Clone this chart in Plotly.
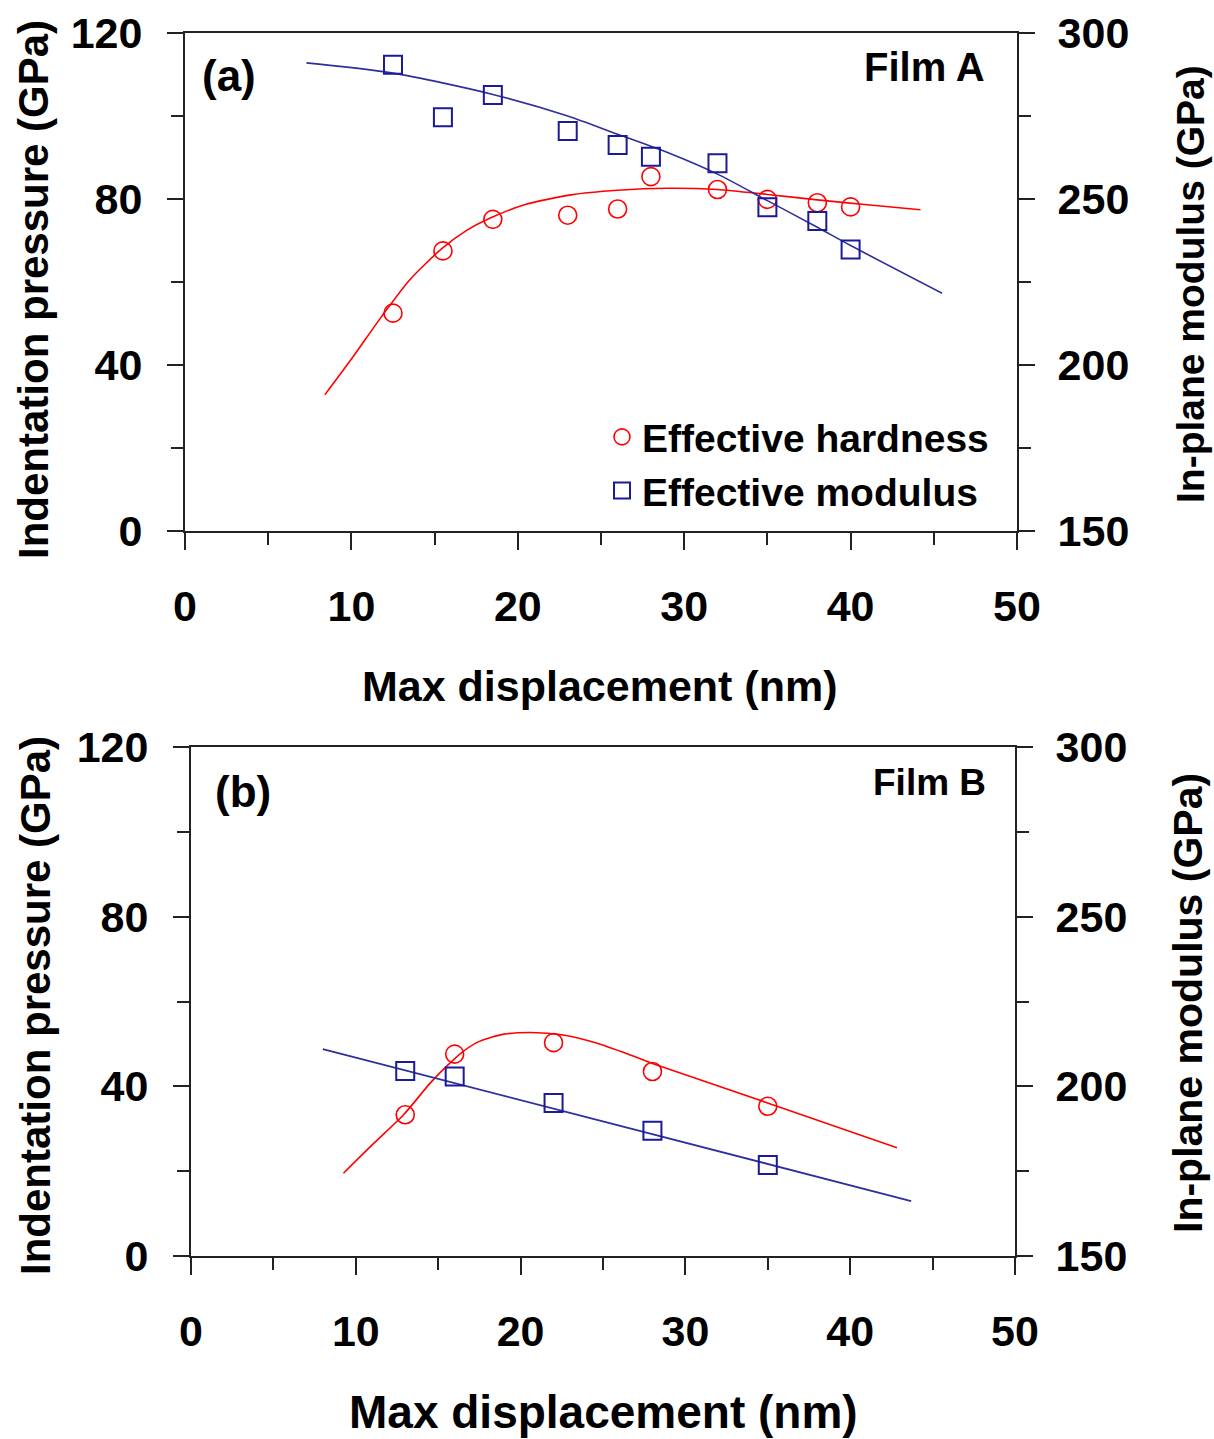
import plotly.graph_objects as go

W, H = 1214, 1439

# ---------------- data: panel (a) Film A ----------------
a_x = [12.5, 15.5, 18.5, 23, 26, 28, 32, 35, 38, 40]
a_hardness = [52.5, 67.5, 75.1, 76.1, 77.6, 85.4, 82.3, 79.9, 79.1, 78.1]
a_modulus = [290.4, 274.6, 281.3, 270.5, 266.3, 262.7, 260.8, 247.5, 243.4, 234.8]
a_hard_fit_x = [8.4, 10.1, 11.8, 13.5, 15.45, 16.95, 18.45, 20.4, 23.2, 26, 29, 32, 35, 38, 41, 44.2]
a_hard_fit_y = [32.8, 42.0, 51.6, 60.5, 68.1, 72.5, 75.6, 78.6, 81.0, 82.1, 82.6, 82.3, 81.1, 79.8, 78.6, 77.4]
a_mod_fit_x = [7.3, 12.4, 18.5, 23, 26, 29, 32, 35, 38, 40, 45.5]
a_mod_fit_y = [291, 288, 281.5, 275, 269.5, 264, 257.5, 249.5, 241.5, 236, 221.6]

# ---------------- data: panel (b) Film B ----------------
b_x = [13, 16, 22, 28, 35]
b_hardness = [33.3, 47.6, 50.3, 43.5, 35.3]
b_modulus = [204.5, 202.9, 195.1, 186.9, 176.8]
b_hard_fit_x = [9.25, 11.1, 12.9, 14.5, 15.5, 16.5, 17.5, 19, 20.6, 22.6, 24.6, 26.65, 28, 34.9, 42.84]
b_hard_fit_y = [19.5, 26.6, 33.3, 40.7, 44.7, 48.2, 50.6, 52.3, 52.7, 52.1, 50.2, 47.4, 45.4, 36.2, 25.5]
b_mod_fit_x = [8, 26.65, 43.7]
b_mod_fit_y = [211, 187.7, 166.2]

# ---------------- ticks ----------------
x_major = [0, 10, 20, 30, 40, 50]
x_labels = ["0", "10", "20", "30", "40", "50"]
x_minor = [5, 15, 25, 35, 45]
yl_major = [0, 40, 80, 120]
yl_labels = ["0", "40", "80", "120"]
yl_minor = [20, 60, 100]
yr_major = [150, 200, 250, 300]
yr_labels = ["150", "200", "250", "300"]
yr_minor = [175, 225, 275]

FONT = "Liberation Sans, Arial, sans-serif"
RED = "#FF0000"
BLUE_M = "#1A1A9A"
BLUE_L = "#2E2E9E"
AX = "#222222"

fig = go.Figure()

# panel (a)
fig.add_trace(go.Scatter(x=a_hard_fit_x, y=a_hard_fit_y, mode="lines",
                         line=dict(color=RED, width=1.6, shape="spline", smoothing=0.7),
                         xaxis="x", yaxis="y", showlegend=False, hoverinfo="skip"))
fig.add_trace(go.Scatter(x=a_mod_fit_x, y=a_mod_fit_y, mode="lines",
                         line=dict(color=BLUE_L, width=1.6, shape="spline", smoothing=0.8),
                         xaxis="x", yaxis="y3", showlegend=False, hoverinfo="skip"))
fig.add_trace(go.Scatter(x=a_x, y=a_hardness, mode="markers", name="Effective hardness",
                         marker=dict(symbol="circle-open", size=18, color=RED, line=dict(width=1.6, color=RED)),
                         xaxis="x", yaxis="y"))
fig.add_trace(go.Scatter(x=a_x, y=a_modulus, mode="markers", name="Effective modulus",
                         marker=dict(symbol="square-open", size=18, color=BLUE_M, line=dict(width=2, color=BLUE_M)),
                         xaxis="x", yaxis="y3"))

# panel (b)
fig.add_trace(go.Scatter(x=b_hard_fit_x, y=b_hard_fit_y, mode="lines",
                         line=dict(color=RED, width=1.6, shape="spline", smoothing=0.7),
                         xaxis="x2", yaxis="y2", showlegend=False, hoverinfo="skip"))
fig.add_trace(go.Scatter(x=b_mod_fit_x, y=b_mod_fit_y, mode="lines",
                         line=dict(color=BLUE_L, width=1.8),
                         xaxis="x2", yaxis="y4", showlegend=False, hoverinfo="skip"))
fig.add_trace(go.Scatter(x=b_x, y=b_hardness, mode="markers", showlegend=False,
                         marker=dict(symbol="circle-open", size=18, color=RED, line=dict(width=1.6, color=RED)),
                         xaxis="x2", yaxis="y2"))
fig.add_trace(go.Scatter(x=b_x, y=b_modulus, mode="markers", showlegend=False,
                         marker=dict(symbol="square-open", size=18, color=BLUE_M, line=dict(width=2, color=BLUE_M)),
                         xaxis="x2", yaxis="y4"))

tickfont = dict(family=FONT, size=43, color="black", weight="bold")


def xax(domain, anchor):
    return dict(domain=domain, anchor=anchor, range=[0, 50], tickvals=x_major, ticktext=x_labels,
                ticks="outside", ticklen=17, tickwidth=2, tickcolor=AX,
                minor=dict(tickvals=x_minor, ticks="outside", ticklen=12, tickwidth=2, tickcolor=AX),
                showline=True, linewidth=2, linecolor=AX, mirror=True, showgrid=False, zeroline=False,
                tickfont=tickfont, ticklabelstandoff=19, automargin=False)


def ylax(domain, anchor):
    return dict(domain=domain, anchor=anchor, range=[0, 120], tickvals=yl_major, ticktext=yl_labels,
                ticks="outside", ticklen=16, tickwidth=2, tickcolor=AX,
                minor=dict(tickvals=yl_minor, ticks="outside", ticklen=12, tickwidth=2, tickcolor=AX),
                showline=True, linewidth=2, linecolor=AX, showgrid=False, zeroline=False,
                tickfont=tickfont, ticklabelstandoff=16, automargin=False)


def yrax(overlay, anchor):
    return dict(overlaying=overlay, anchor=anchor, side="right", range=[150, 300],
                tickvals=yr_major, ticktext=yr_labels,
                ticks="outside", ticklen=16, tickwidth=2, tickcolor=AX,
                minor=dict(tickvals=yr_minor, ticks="outside", ticklen=12, tickwidth=2, tickcolor=AX),
                showline=True, linewidth=2, linecolor=AX, showgrid=False, zeroline=False,
                tickfont=tickfont, ticklabelstandoff=14, automargin=False)


def px(v):
    return v / W


def py(v):
    return 1 - v / H


title_font = dict(family=FONT, size=42, color="black", weight="bold")

annotations = [
    dict(text="Indentation pressure (GPa)", x=px(33), y=py(290), textangle=-90, font=title_font),
    dict(text="In-plane modulus (GPa)", x=px(1190), y=py(284), textangle=-90, font=dict(title_font, size=39)),
    dict(text="Max displacement (nm)", x=px(600), y=py(686), font=dict(title_font, size=43)),
    dict(text="(a)", x=px(229), y=py(75), font=dict(title_font, size=44)),
    dict(text="Film A", x=px(987), xanchor="right", y=py(67), font=dict(title_font, size=40)),
    dict(text="Indentation pressure (GPa)", x=px(35), y=py(1006), textangle=-90, font=title_font),
    dict(text="In-plane modulus (GPa)", x=px(1188), y=py(1003), textangle=-90, font=dict(title_font, size=41)),
    dict(text="Max displacement (nm)", x=px(603), y=py(1412), font=dict(title_font, size=46)),
    dict(text="(b)", x=px(243), y=py(792), font=dict(title_font, size=44)),
    dict(text="Film B", x=px(988), xanchor="right", y=py(782), font=dict(title_font, size=37)),
]
for a in annotations:
    a.update(xref="paper", yref="paper", showarrow=False)
    a.setdefault("xanchor", "center")
    a.setdefault("yanchor", "middle")

fig.update_layout(
    width=W, height=H,
    margin=dict(l=0, r=0, t=0, b=0, autoexpand=False),
    paper_bgcolor="white", plot_bgcolor="white",
    xaxis=xax([px(185), px(1017)], "y"),
    yaxis=ylax([py(531), py(33)], "x"),
    yaxis3=yrax("y", "x"),
    xaxis2=xax([px(191), px(1015)], "y2"),
    yaxis2=ylax([py(1256), py(747)], "x2"),
    yaxis4=yrax("y2", "x2"),
    legend=dict(x=px(602), y=py(405), xanchor="left", yanchor="top",
                font=dict(family=FONT, size=39, color="black", weight="bold"),
                bgcolor="rgba(0,0,0,0)", itemwidth=30, tracegroupgap=0),
    annotations=annotations,
    showlegend=True,
)

fig.write_html("out.html")
